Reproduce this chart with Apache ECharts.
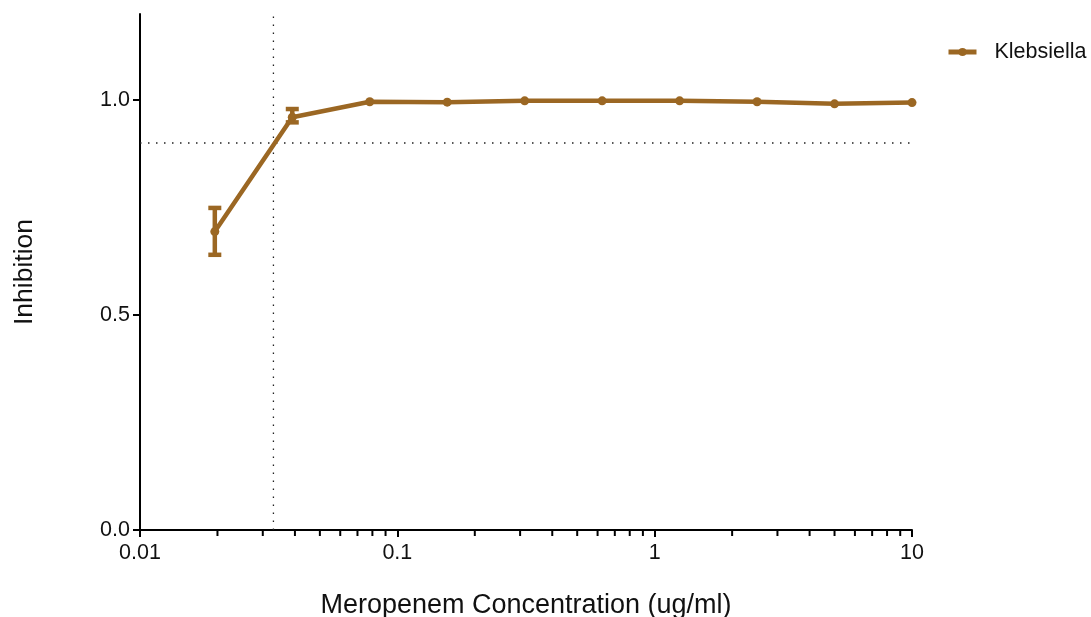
<!DOCTYPE html>
<html>
<head>
<meta charset="utf-8">
<script src="https://cdn.jsdelivr.net/npm/echarts@6/dist/echarts.min.js"></script>
<style>
html,body{margin:0;padding:0;background:#fff;}
#chart{width:1091px;height:617px;}
</style>
</head>
<body>
<div id="chart"></div>
<script>
// ---- data ----
const concentrations = [0.01953125, 0.0390625, 0.078125, 0.15625, 0.3125, 0.625, 1.25, 2.5, 5, 10];
const inhibition     = [0.694, 0.960, 0.996, 0.995, 0.998, 0.998, 0.998, 0.996, 0.991, 0.994];
const errLow         = [0.640, 0.948, null, null, null, null, null, null, null, null];
const errHigh        = [0.749, 0.979, null, null, null, null, null, null, null, null];
const seriesName = 'Klebsiella';
const refX = 0.033;   // vertical dotted line
const refY = 0.9;     // horizontal dotted line
const xRange = [0.01, 10];
const yRange = [0, 1.2];
const yTicks = [0, 0.5, 1.0];
const minorTickValues = [0.02,0.03,0.04,0.05,0.06,0.07,0.08,0.09,0.2,0.3,0.4,0.5,0.6,0.7,0.8,0.9,2,3,4,5,6,7,8,9];

const COLOR = '#9B6723';
const FONT = '"Liberation Sans", Arial, sans-serif';

const lineData = concentrations.map((x, i) => [x, inhibition[i]]);
const errData = concentrations.map((x, i) => [x, errLow[i], errHigh[i]]).filter(d => d[1] != null);
const dotted = {color: '#222', width: 1.3, type: [1.5, 6.5]};

const chart = echarts.init(document.getElementById('chart'), null, {renderer: 'canvas'});
chart.setOption({
  animation: false,
  backgroundColor: '#fff',
  textStyle: {fontFamily: FONT},
  grid: {left: 140, right: 179, top: 14, bottom: 87, containLabel: false, outerBoundsMode: 'none'},
  legend: {
    data: [seriesName],
    left: 941, top: 36,
    itemWidth: 28, itemHeight: 10,
    lineStyle: {width: 5},
    textStyle: {fontFamily: FONT, fontSize: 21.5, color: '#111', padding: [0, 0, 0, 13]}
  },
  xAxis: {
    type: 'log', logBase: 10, min: xRange[0], max: xRange[1],
    name: 'Meropenem Concentration (ug/ml)',
    nameLocation: 'middle', nameGap: 62,
    nameTextStyle: {fontFamily: FONT, fontSize: 27, color: '#111'},
    axisLine: {show: true, onZero: false, lineStyle: {color: '#000', width: 2}},
    axisTick: {show: true, length: 7, lineStyle: {color: '#000', width: 2}},
    axisLabel: {fontFamily: FONT, fontSize: 21.5, color: '#111', margin: 12,
      formatter: v => String(+(+v).toPrecision(1))},
    splitLine: {show: false},
    minorTick: {show: false}
  },
  yAxis: {
    type: 'value', min: yRange[0], max: yRange[1],
    name: 'Inhibition',
    nameLocation: 'middle', nameGap: 102,
    nameTextStyle: {fontFamily: FONT, fontSize: 26.5, color: '#111'},
    axisLine: {show: true, lineStyle: {color: '#000', width: 2}},
    axisTick: {show: true, length: 7, lineStyle: {color: '#000', width: 2}, customValues: yTicks},
    axisLabel: {fontFamily: FONT, fontSize: 21.5, color: '#111', margin: 10, customValues: yTicks,
      formatter: v => (+v).toFixed(1)},
    splitLine: {show: false}
  },
  series: [
    {
      name: 'refV', type: 'line', silent: true, symbol: 'none', z: 1,
      data: [[refX, yRange[0]], [refX, yRange[1]]],
      lineStyle: dotted
    },
    {
      name: 'refH', type: 'line', silent: true, symbol: 'none', z: 1,
      data: [[xRange[0], refY], [xRange[1], refY]],
      lineStyle: dotted
    },
    {
      name: seriesName,
      type: 'line',
      data: lineData,
      color: COLOR,
      symbol: 'circle', symbolSize: 9,
      lineStyle: {color: COLOR, width: 4.5},
      itemStyle: {color: COLOR},
      z: 3
    },
    {
      name: 'err',
      type: 'custom',
      data: errData,
      z: 4,
      clip: false,
      renderItem: function (params, api) {
        const x = api.value(0);
        const lo = api.coord([x, api.value(1)]);
        const hi = api.coord([x, api.value(2)]);
        const hw = 6.5;
        const st = {stroke: COLOR, lineWidth: 4.5};
        return {type: 'group', children: [
          {type: 'line', shape: {x1: lo[0], y1: lo[1], x2: hi[0], y2: hi[1]}, style: st},
          {type: 'line', shape: {x1: lo[0]-hw, y1: lo[1], x2: lo[0]+hw, y2: lo[1]}, style: st},
          {type: 'line', shape: {x1: hi[0]-hw, y1: hi[1], x2: hi[0]+hw, y2: hi[1]}, style: st}
        ]};
      }
    },
    {
      name: 'minorTicks',
      type: 'custom',
      data: minorTickValues.map(v => [v, 0]),
      clip: false,
      silent: true,
      z: 5,
      renderItem: function (params, api) {
        const p = api.coord([api.value(0), 0]);
        return {type: 'line', shape: {x1: p[0], y1: p[1], x2: p[0], y2: p[1] + 6},
          style: {stroke: '#000', lineWidth: 2}};
      }
    }
  ]
});
</script>
</body>
</html>
